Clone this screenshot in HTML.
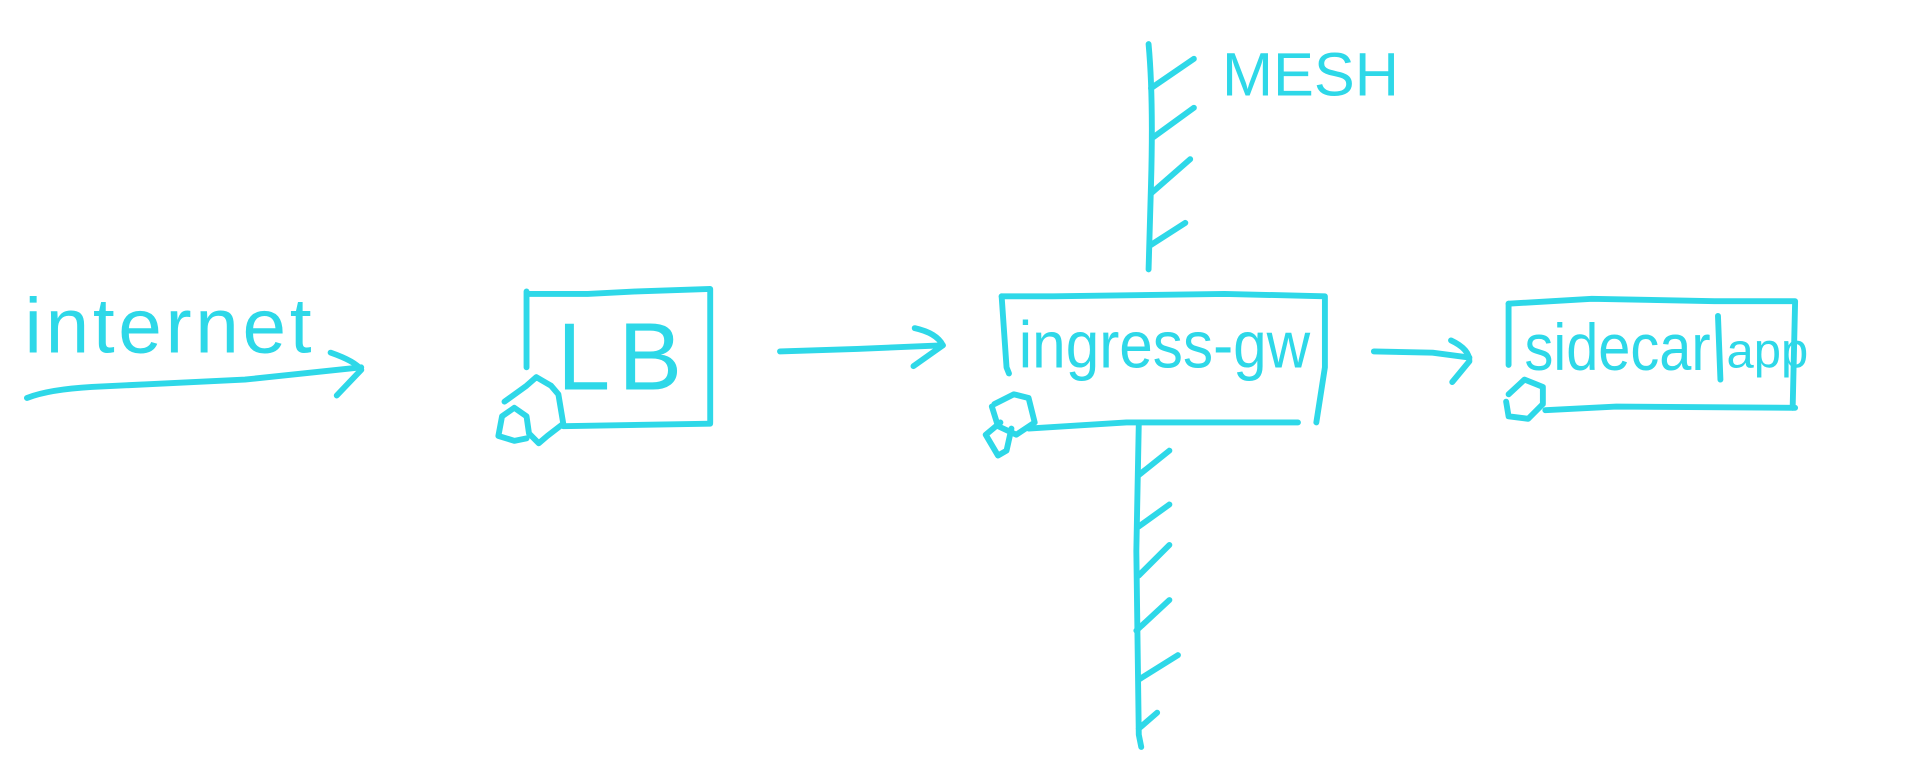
<!DOCTYPE html>
<html><head><meta charset="utf-8"><style>
html,body{margin:0;padding:0;background:#fff;}
svg{display:block}
text{font-family:"Liberation Sans",sans-serif;fill:#2ed8e8;}
</style></head><body>
<svg width="1920" height="780" viewBox="0 0 1920 780" xmlns="http://www.w3.org/2000/svg">
<g transform="scale(1.2245)">
<g fill="none" stroke="#2ed8e8" stroke-width="4.8" stroke-linecap="round" stroke-linejoin="round">
<path d="M22 325 Q40 318 75 316 L200 310 L295 300"/>
<path d="M270 288 Q290 295 295 302 L275 323"/>
<path d="M430 238 L430 300"/>
<path d="M432 240 L480 240 L520 238 L580 236 L580 345"/>
<path d="M460 348 L580 346"/>
<path d="M412 328 L430 315 L438 308 L450 315 L456 322 L460 346 L447 356 L440 362 L432 354 L430 340 L420 333 L410 340 L407 356 L420 360 L430 358"/>
<path d="M637 287 L700 285 L770 282"/>
<path d="M747 268 Q765 272 770 282 L746 299"/>
<path d="M818 242 L860 242 L1000 240 L1082 242 L1082 300 L1075 345"/>
<path d="M818 242 L822 300 L824 305"/>
<path d="M840 350 L920 345 L1060 345"/>
<path d="M812 330 L828 322 L840 325 L845 345 L830 355 L815 348 L810 332 M817 345 L805 355 L815 372 L822 368 L826 350"/>
<path d="M938 36 Q942 80 940 150 L938 220"/>
<path d="M940 72 L975 48"/>
<path d="M942 112 L975 88"/>
<path d="M940 158 L972 130"/>
<path d="M940 200 L968 182"/>
<path d="M930 346 L928 450 L930 600 L932 610"/>
<path d="M930 388 L955 368"/>
<path d="M930 430 L955 412"/>
<path d="M930 470 L955 445"/>
<path d="M928 515 L955 490"/>
<path d="M930 555 L962 535"/>
<path d="M930 595 L945 582"/>
<path d="M1122 287 L1170 288 L1200 292"/>
<path d="M1185 278 Q1200 285 1200 295 L1186 312"/>
<path d="M1232 248 L1300 244 L1400 246 L1466 246 L1464 333"/>
<path d="M1232 248 L1232 298"/>
<path d="M1262 335 L1320 332 L1466 333"/>
<path d="M1403 258 L1405 310"/>
<path d="M1232 322 L1245 310 L1260 316 L1260 330 L1248 342 L1232 340 L1230 328"/>
</g>
<text x="20" y="288" font-size="64" letter-spacing="3">internet</text>
<text x="455" y="318" font-size="78">L</text>
<text x="505" y="318" font-size="78">B</text>
<text x="832" y="300" font-size="54" textLength="238" lengthAdjust="spacingAndGlyphs">ingress-gw</text>
<text x="1245" y="302" font-size="54" textLength="152" lengthAdjust="spacingAndGlyphs">sidecar</text>
<text x="1410" y="300" font-size="40">app</text>
<text x="998" y="78" font-size="50">MESH</text>
</g>
</svg>
</body></html>
